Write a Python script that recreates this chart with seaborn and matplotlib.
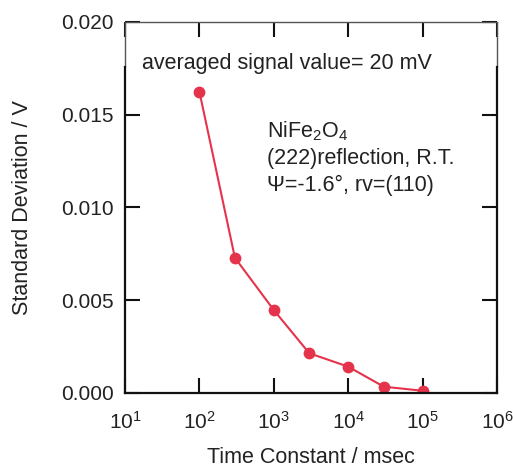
import matplotlib
matplotlib.use("Agg")
import matplotlib.pyplot as plt
import seaborn as sns
import pandas as pd
from matplotlib.ticker import FixedLocator, FixedFormatter, NullLocator

# Measured noise vs. lock-in time constant
time_constant_ms = [100, 300, 1000, 3000, 10000, 30000, 100000]
std_dev_v = [0.01624, 0.00729, 0.00447, 0.00214, 0.00142, 0.00034, 0.00012]

x_ticks = [1e1, 1e2, 1e3, 1e4, 1e5, 1e6]
x_tick_labels = [r"$10^{1}$", r"$10^{2}$", r"$10^{3}$", r"$10^{4}$", r"$10^{5}$", r"$10^{6}$"]
y_ticks = [0.000, 0.005, 0.010, 0.015, 0.020]
y_tick_labels = ["0.000", "0.005", "0.010", "0.015", "0.020"]

sns.set_style("ticks", {"xtick.direction": "in", "ytick.direction": "in"})
plt.rcParams["font.family"] = ["Liberation Sans", "DejaVu Sans"]
plt.rcParams["mathtext.fontset"] = "custom"
plt.rcParams["mathtext.rm"] = "Liberation Sans"
plt.rcParams["mathtext.it"] = "Liberation Sans"
plt.rcParams["mathtext.default"] = "regular"
plt.rcParams["xtick.direction"] = "in"
plt.rcParams["ytick.direction"] = "in"

df = pd.DataFrame({"tc": time_constant_ms, "sd": std_dev_v})

fig = plt.figure(figsize=(5.13, 4.68), dpi=100)
ax = fig.add_axes([0.2437, 0.1603, 0.7251, 0.7927])

red = "#E5334B"
sns.lineplot(data=df, x="tc", y="sd", ax=ax, color=red, linewidth=1.5,
             marker="o", markersize=8.5, markeredgewidth=0, markerfacecolor=red)

ax.set_xscale("log")
ax.set_xlim(1e1, 1e6)
ax.set_ylim(0.0, 0.020)

ax.xaxis.set_major_locator(FixedLocator(x_ticks))
ax.xaxis.set_major_formatter(FixedFormatter(x_tick_labels))
ax.xaxis.set_minor_locator(NullLocator())
ax.yaxis.set_major_locator(FixedLocator(y_ticks))
ax.yaxis.set_major_formatter(FixedFormatter(y_tick_labels))
ax.yaxis.set_minor_locator(NullLocator())

ax.tick_params(axis="both", which="major", direction="in", length=11, width=1.5,
               labelsize=15, color="#111111", labelcolor="#222222",
               top=True, right=True)
ax.tick_params(axis="y", pad=8)
ax.tick_params(axis="x", pad=13)

# frame: heavy black sides, light gray top section
for side in ("left", "right", "bottom"):
    ax.spines[side].set_visible(True)
    ax.spines[side].set_color("#111111")
    ax.spines[side].set_linewidth(1.6)
ax.spines["top"].set_visible(True)
ax.spines["top"].set_color("#555555")
ax.spines["top"].set_linewidth(1.0)
ax.spines["left"].set_bounds(0.0, 0.0176)
ax.spines["right"].set_bounds(0.0, 0.0176)
for xa in (0.0, 1.0):
    ax.plot([xa, xa], [0.88, 1.0], transform=ax.transAxes, color="#555555",
            linewidth=1.0, clip_on=False, solid_capstyle="butt")

ax.set_xlabel("Time Constant / msec", fontsize=15.5, color="#222222", labelpad=10)
ax.set_ylabel("Standard Deviation / V", fontsize=15.5, color="#222222", labelpad=20)

ax.text(0.045, 0.889, "averaged signal value= 20 mV", transform=ax.transAxes,
        fontsize=15.5, color="#222222", va="center", ha="left")
ax.text(0.382, 0.738, "NiFe$_2$O$_4$\n(222)reflection, R.T.\n\u03A8=-1.6\u00B0, rv=(110)",
        transform=ax.transAxes, fontsize=15.5, color="#222222", va="top", ha="left",
        linespacing=1.33, family=["Liberation Sans", "DejaVu Sans"])

fig.savefig("out.png", dpi=100)
